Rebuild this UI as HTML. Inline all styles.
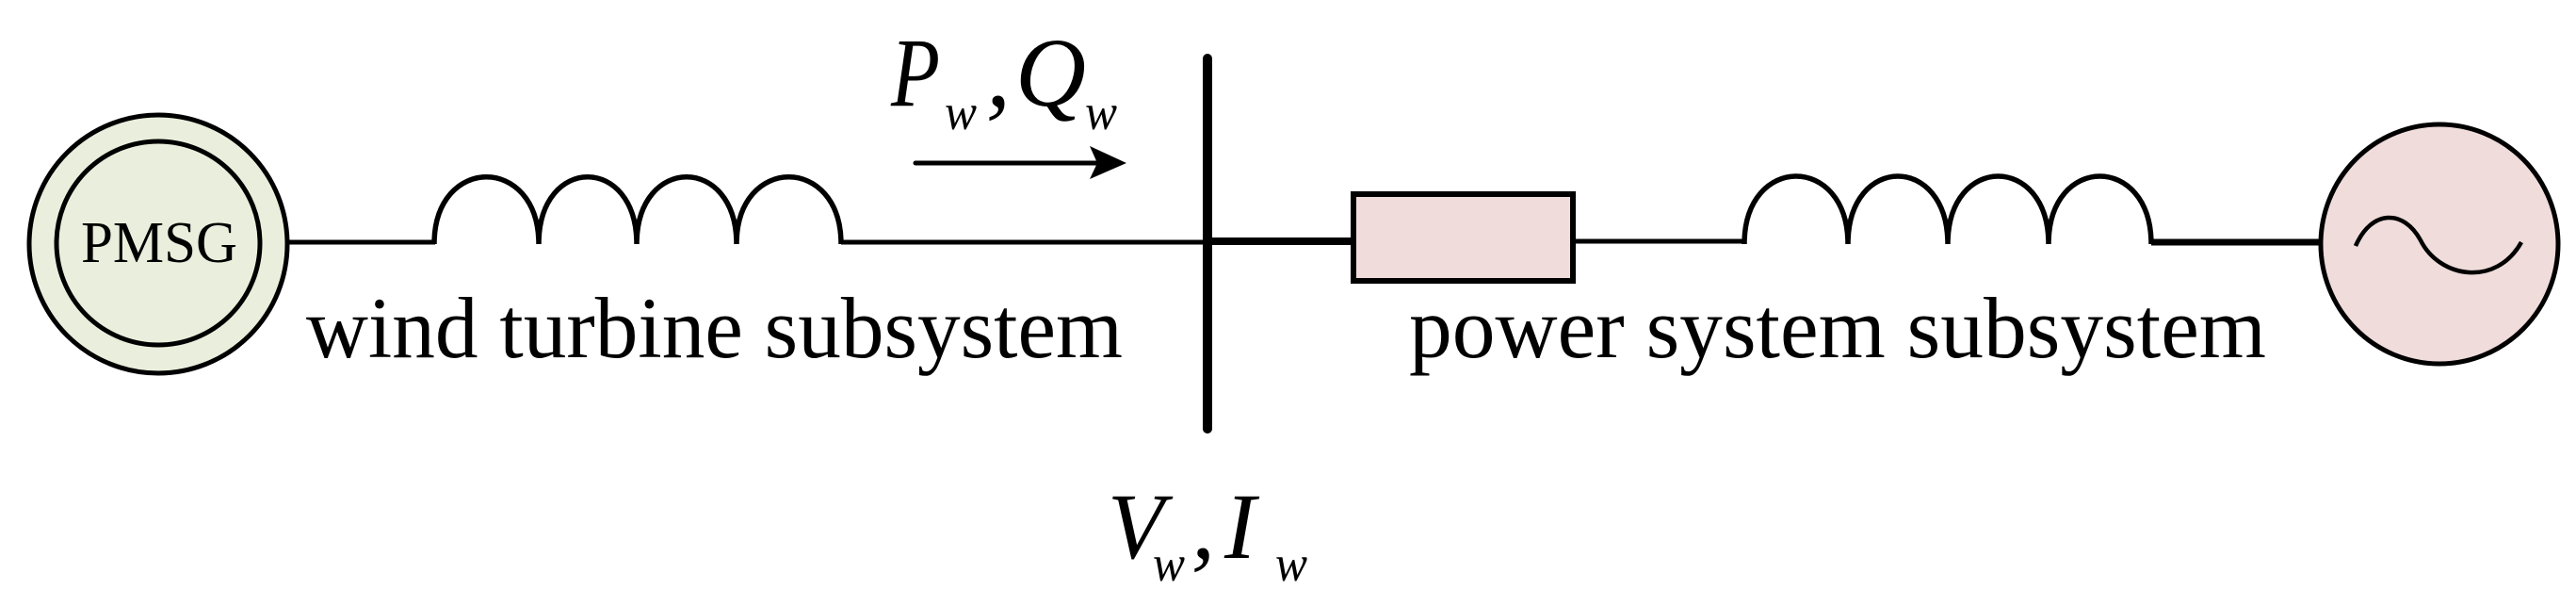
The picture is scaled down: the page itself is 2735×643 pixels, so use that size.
<!DOCTYPE html>
<html><head><meta charset="utf-8"><style>html,body{margin:0;padding:0;background:#fff}svg{display:block}
text{font-family:"Liberation Serif","Times New Roman",Times,serif}</style></head>
<body>
<svg width="2735" height="643" viewBox="0 0 2735 643" xmlns="http://www.w3.org/2000/svg">
<circle cx="168" cy="259" r="137" fill="#e9efdc" stroke="#000" stroke-width="5"/>
<circle cx="168" cy="258" r="108" fill="#e9efdc" stroke="#000" stroke-width="5"/>
<text x="86" y="278" font-size="62" textLength="166" lengthAdjust="spacingAndGlyphs">PMSG</text>
<line x1="306" y1="257" x2="462" y2="257" stroke="#000" stroke-width="5"/>
<path d="M461 259 C461 164,572 164,572 259 C572 164,676 164,676 259 C676 164,782 164,782 259 C782 164,893 164,893 259" fill="none" stroke="#000" stroke-width="5.5"/>
<line x1="893" y1="257" x2="1282" y2="257" stroke="#000" stroke-width="5"/>
<line x1="1282" y1="62" x2="1282" y2="455" stroke="#000" stroke-width="10" stroke-linecap="round"/>
<line x1="1282" y1="256" x2="1436" y2="256" stroke="#000" stroke-width="8"/>
<rect x="1437" y="206" width="233" height="92" fill="#f0dcdb" stroke="#000" stroke-width="6"/>
<line x1="1670" y1="256" x2="1853" y2="256" stroke="#000" stroke-width="5"/>
<path d="M1852 259 C1852 163,1962 163,1962 259 C1962 163,2068 163,2068 259 C2068 163,2175 163,2175 259 C2175 163,2284 163,2284 259" fill="none" stroke="#000" stroke-width="5.5"/>
<line x1="2284" y1="257" x2="2466" y2="257" stroke="#000" stroke-width="7"/>
<ellipse cx="2590" cy="259" rx="126" ry="127" fill="#efdcdb" stroke="#000" stroke-width="5"/>
<path d="M2501 261 C2518 222,2552 222,2570 255 C2590 295,2650 305,2677 257" fill="none" stroke="#000" stroke-width="4.5"/>
<line x1="972" y1="173" x2="1165" y2="173" stroke="#000" stroke-width="5" stroke-linecap="round"/>
<polygon points="1157,155 1196,173 1157,190 1165,173" fill="#000"/>
<g font-style="italic">
<text x="946" y="112" font-size="104" textLength="52" lengthAdjust="spacingAndGlyphs">P</text>
<text x="1003" y="137" font-size="54" textLength="34" lengthAdjust="spacingAndGlyphs">w</text>
<text x="1047" y="112" font-size="104">,</text>
<text x="1078" y="112" font-size="104" textLength="75" lengthAdjust="spacingAndGlyphs">Q</text>
<text x="1152" y="137" font-size="54" textLength="34" lengthAdjust="spacingAndGlyphs">w</text>
<text x="1176" y="592" font-size="100" textLength="60" lengthAdjust="spacingAndGlyphs">V</text>
<text x="1224" y="616" font-size="54" textLength="34" lengthAdjust="spacingAndGlyphs">w</text>
<text x="1265" y="592" font-size="100">,</text>
<text x="1300" y="592" font-size="100">I</text>
<text x="1354" y="616" font-size="54" textLength="34" lengthAdjust="spacingAndGlyphs">w</text>
</g>
<text x="325" y="379" font-size="92" textLength="867" lengthAdjust="spacingAndGlyphs">wind turbine subsystem</text>
<text x="1496" y="379" font-size="92" textLength="910" lengthAdjust="spacingAndGlyphs">power system subsystem</text>
</svg>
</body></html>
